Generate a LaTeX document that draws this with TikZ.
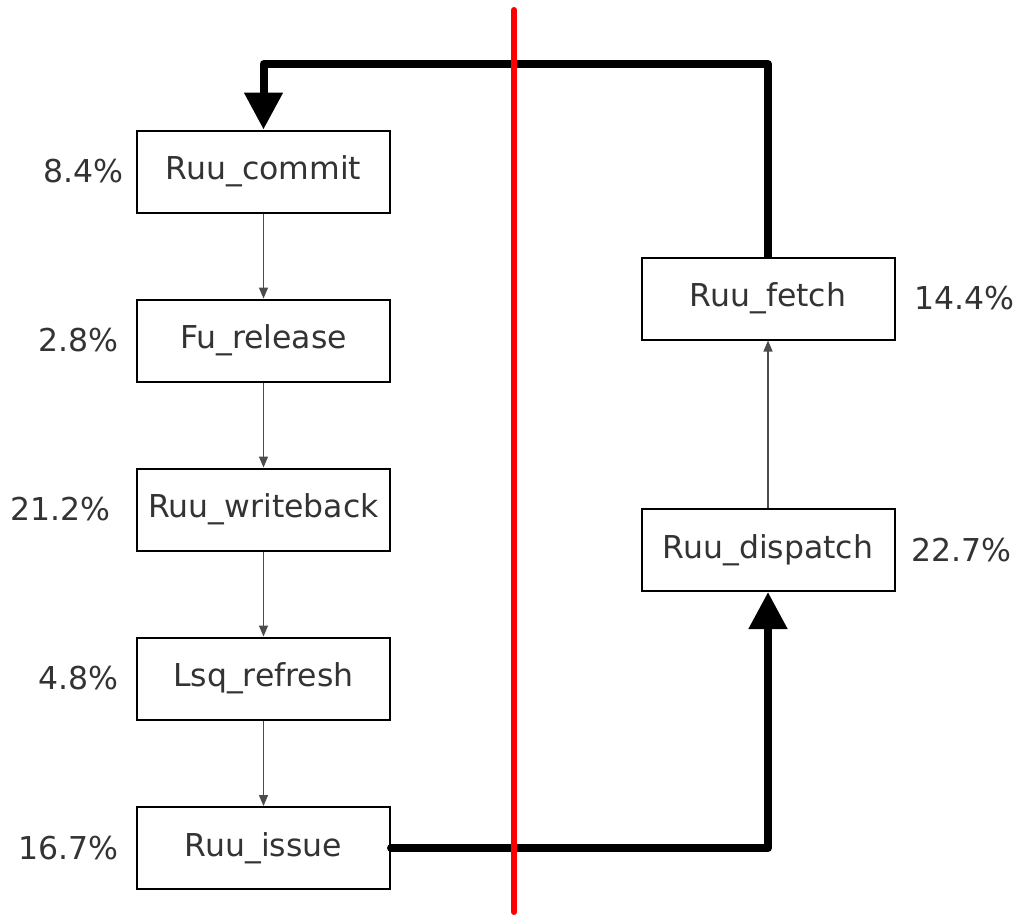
\documentclass[tikz,border=0pt]{standalone}
\usepackage{fontspec}
\setmainfont{DejaVu Sans}
\usetikzlibrary{arrows.meta, positioning}
\definecolor{linegray}{rgb}{0.3, 0.3, 0.3}
\definecolor{textgray}{rgb}{0.2, 0.2, 0.2}

\tikzset{
	func/.style={draw, line width=2pt, minimum width=253pt, minimum height=82pt, inner sep=0pt, text=textgray, font=\fontsize{31.5}{38}\selectfont},
	pct/.style={inner sep=0pt, text=textgray, font=\fontsize{31.5}{38}\selectfont},
	flow/.style={-{Triangle[length=11pt, width=9pt]}, line width=1.3pt, linegray},
	loop/.style={line width=8pt, line join=round},
}

\begin{document}
\begin{tikzpicture}[x=1pt, y=-1pt]
		\useasboundingbox (0,0) rectangle (1022,919);
		% left column
		\node [func] (commit) at (263.5,171.5) {Ruu\_commit};
		\node [func] (release) at (263.5,340.5) {Fu\_release};
		\node [func] (writeback) at (263.5,509.5) {Ruu\_writeback};
		\node [func] (refresh) at (263.5,678.5) {Lsq\_refresh};
		\node [func] (issue) at (263.5,848) {Ruu\_issue};
		% right column
		\node [func] (fetch) at (768,298.5) {Ruu\_fetch};
		\node [func] (dispatch) at (768,550) {Ruu\_dispatch};

		\node [pct, anchor=east] (pcommit) at (124,171.5) {8.4\%};
		\node [pct, anchor=east] (prelease) at (119,340.5) {2.8\%};
		\node [pct, anchor=east] (pwriteback) at (111,509.5) {21.2\%};
		\node [pct, anchor=east] (prefresh) at (119,678.5) {4.8\%};
		\node [pct, anchor=east] (pissue) at (119,848) {16.7\%};
		\node [pct, anchor=west] (pfetch) at (914,298.5) {14.4\%};
		\node [pct, anchor=west] (pdispatch) at (911,550) {22.7\%};

		\foreach \a/\b in {commit/release, release/writeback, writeback/refresh, refresh/issue, dispatch/fetch}{
			\draw [flow] (\a) -- (\b);
		}

		\coordinate (topright) at (768,64);
		\coordinate (topleft) at (263.5,64);
		\coordinate (bottomright) at (issue.east -| dispatch.south);
		\draw [loop, -{Triangle[length=37pt, width=37pt]}] (fetch.north) -- (topright) -- (topleft) -- (commit.north);
		\draw [loop, line cap=round, -{Triangle[length=37pt, width=37pt]}] (issue.east) -- (bottomright) -- (dispatch.south);

		\coordinate (cuttop) at (514,10);
		\coordinate (cutbottom) at (514,912);
		\draw [red, line width=6pt, line cap=round] (cuttop) -- (cutbottom);
	\end{tikzpicture}
\end{document}
